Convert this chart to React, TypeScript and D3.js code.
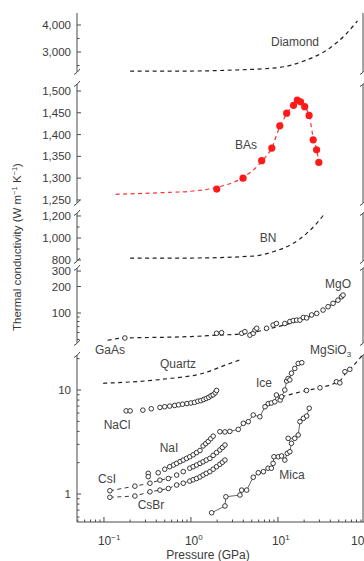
import { useRef, useEffect } from 'react';
import * as d3 from 'd3';

// Pressure (GPa) / thermal conductivity (W m-1 K-1)
const diamondP = [0.2, 1, 3, 10, 20, 40, 60, 82];
const diamondK = [2290, 2295, 2330, 2420, 2670, 3160, 3650, 4150];

const basLineP = [0.136, 0.5, 1, 2, 4, 6.5, 8.5, 10.5, 12.6, 15, 16.7, 18.5, 20.5, 23, 25.5, 28, 29.5];
const basLineK = [1263, 1267, 1270, 1279, 1302, 1338, 1370, 1418, 1447, 1469, 1480, 1476, 1463, 1442, 1392, 1364, 1337];
const basP = [1.98, 3.97, 6.5, 8.5, 10.5, 12.6, 15.1, 16.7, 18.2, 20.3, 22.8, 25.4, 27.8, 29.5];
const basK = [1275, 1300, 1340, 1369, 1420, 1449, 1467, 1479, 1475, 1464, 1444, 1388, 1365, 1336];

const bnP = [0.2, 1, 5.2, 8.8, 15, 21.4, 27.9, 34.6];
const bnK = [818, 818, 836, 875, 952, 1042, 1133, 1224];

const mgoLineP = [0.11, 0.174, 0.5, 1, 2, 4, 6, 10, 15, 20, 30, 40, 56];
const mgoLineK = [49, 52, 53, 54, 56, 58, 62, 70, 78, 86, 102, 122, 158];
const gaasP = [0.174];
const gaasK = [52];
const mgoP = [1.97, 2.25, 3.83, 4.17, 4.76, 5.2, 5.45, 5.7, 7.4, 8.8, 9.6, 12, 13.7, 15, 16.4, 17.9, 19.6, 21.4, 24.4, 27.9, 33, 37.7, 43, 49, 53.7, 56];
const mgoK = [58.8, 59.7, 58.8, 61.3, 56, 58.8, 64, 67, 67, 73, 76, 76, 80, 82, 83, 83, 89, 88, 95, 99, 108, 118, 129, 140, 153, 160];

const quartzP = [0.098, 0.48, 1.38, 2.7, 3.8];
const quartzK = [11.6, 12.7, 14.5, 17.8, 19.7];

const naclP = [0.18, 0.2, 0.28, 0.35, 0.44, 0.5, 0.57, 0.65, 0.72, 0.8, 0.9, 1.0, 1.1, 1.2, 1.3, 1.4, 1.5, 1.6, 1.7, 1.8, 1.9, 1.97];
const naclK = [6.3, 6.3, 6.4, 6.6, 6.8, 6.9, 7.0, 7.1, 7.2, 7.3, 7.4, 7.5, 7.6, 7.8, 7.9, 8.1, 8.3, 8.5, 8.8, 9.0, 9.4, 9.9];

const iceP = [2.15, 2.46, 2.8, 3.5, 4.0, 4.56, 5.2, 6.2, 7.1, 7.74, 8.4, 9.2, 9.6, 10.6, 11.0, 12.0, 12.6, 13.1, 13.7, 14.3, 15.6, 17.1, 18.8];
const iceK = [3.97, 3.95, 4.0, 4.18, 4.78, 4.96, 5.75, 5.53, 6.9, 7.4, 7.5, 7.7, 8.95, 8.0, 8.6, 10.0, 12.2, 12.9, 12.5, 14.5, 16.1, 18.0, 18.3];

const mgsio3LineP = [11, 15, 21.3, 30, 47, 53, 60, 67, 80, 95];
const mgsio3LineK = [8.6, 9.2, 9.9, 10.5, 11.8, 12.5, 14.5, 15.8, 18.5, 22];
const mgsio3P = [21.3, 30.4, 47, 51.5, 58.9, 67];
const mgsio3K = [9.9, 10.5, 12.0, 11.7, 15.0, 15.8];

const micaP = [1.73, 2.46, 2.52, 3.66, 3.83, 4.37, 5.2, 5.94, 6.8, 7.7, 8.4, 8.8, 9.0, 10.1, 11.0, 12.0, 12.8, 13.7, 14.3, 13.1, 15.6, 17.1, 17.9, 19.6, 21.4, 22.9];
const micaK = [0.66, 0.767, 0.94, 0.978, 1.09, 1.09, 1.45, 1.6, 1.64, 1.77, 1.77, 1.97, 2.28, 2.28, 2.32, 2.12, 2.46, 2.55, 3.07, 3.43, 3.43, 3.69, 4.96, 5.34, 5.62, 6.67];

const naiP = [0.323, 0.323, 0.42, 0.5, 0.57, 0.63, 0.685, 0.75, 0.815, 0.89, 0.97, 1.06, 1.16, 1.27, 1.38, 1.48, 1.58, 1.69, 1.8];
const naiK = [1.58, 1.47, 1.6, 1.73, 1.83, 1.9, 1.97, 2.05, 2.12, 2.2, 2.28, 2.38, 2.5, 2.62, 2.9, 3.05, 3.2, 3.4, 3.6];

const csiP = [0.117, 0.227, 0.338, 0.44, 0.55, 0.685, 0.815, 0.97, 1.06, 1.16, 1.27, 1.38, 1.5, 1.65, 1.8, 1.97, 2.15, 2.3, 2.46];
const csiK = [1.075, 1.19, 1.27, 1.36, 1.41, 1.52, 1.64, 1.77, 1.83, 1.9, 1.97, 2.04, 2.12, 2.2, 2.35, 2.5, 2.65, 2.8, 2.96];
const csbrP = [0.117, 0.227, 0.338, 0.44, 0.55, 0.685, 0.815, 0.97, 1.06, 1.16, 1.27, 1.38, 1.5, 1.65, 1.8, 1.97, 2.15, 2.3, 2.46];
const csbrK = [0.93, 0.956, 1.05, 1.09, 1.13, 1.22, 1.27, 1.33, 1.37, 1.41, 1.46, 1.52, 1.58, 1.64, 1.73, 1.83, 1.93, 2.02, 2.12];

const pressureTicks = [0.1, 1, 10, 100];
const pressureExp = ['\u22121', '0', '1', '2'];

const zip = (p: number[], k: number[]) => p.map((v, i) => [v, k[i]] as [number, number]);

const FONT = '"Liberation Sans", Arial, Helvetica, sans-serif';

export default function App() {
  const svgRef = useRef<SVGSVGElement>(null);

  useEffect(() => {
    if (!svgRef.current) return;
    const svg = d3.select(svgRef.current);
    svg.selectAll('*').remove();

    const left = 77, right = 363, axisY = 522;
    const x = d3.scaleLog().domain([0.049, 95]).range([left, right]);

    // stacked panels of the broken y axis
    const panels = [
      { y: d3.scaleLinear().domain([2259, 4444]).range([72, 13]), major: [3000, 4000], minor: [2500, 3500], topBreak: false, bottomBreak: true },
      { y: d3.scaleLinear().domain([1243, 1516]).range([203, 84]), major: [1250, 1300, 1350, 1400, 1450, 1500], minor: [], topBreak: true, bottomBreak: true },
      { y: d3.scaleLinear().domain([791, 1227]).range([261, 213]), major: [800, 1000, 1200], minor: [900, 1100], topBreak: true, bottomBreak: true },
      { y: d3.scaleLog().domain([45.6, 325]).range([343, 268]), major: [100, 200, 300], minor: [50, 60, 70, 80, 90], topBreak: true, bottomBreak: true },
      { y: d3.scaleLog().domain([0.538, 21.7]).range([axisY, 355]), major: [1, 10], minor: [0.6, 0.7, 0.8, 0.9, 2, 3, 4, 5, 6, 7, 8, 9, 20], topBreak: true, bottomBreak: false },
    ];
    const fmt = d3.format(',');
    const axisColor = '#4a4a4a';
    const textColor = '#3a3a3a';

    panels.forEach((pn) => {
      const [y0, y1] = pn.y.range() as [number, number];
      [left, right].forEach((ax) => {
        svg.append('line').attr('x1', ax).attr('x2', ax).attr('y1', y1).attr('y2', y0)
          .attr('stroke', axisColor).attr('stroke-width', 1);
        const marks: number[] = [];
        if (pn.topBreak) marks.push(y1);
        if (pn.bottomBreak) marks.push(y0);
        marks.forEach((by) => {
          svg.append('path')
            .attr('d', `M${ax - 3},${by + 2.5} Q${ax},${by + 1} ${ax + 3},${by - 3}`)
            .attr('fill', 'none').attr('stroke', axisColor).attr('stroke-width', 1);
        });
      });
      pn.major.forEach((v) => {
        const ty = pn.y(v);
        svg.append('line').attr('x1', left).attr('x2', left + 4).attr('y1', ty).attr('y2', ty)
          .attr('stroke', axisColor);
        svg.append('text').attr('x', left - 6).attr('y', ty).attr('dy', '0.35em')
          .attr('text-anchor', 'end').attr('fill', textColor)
          .style('font-family', FONT).style('font-size', '11.5px')
          .text(fmt(v));
      });
      pn.minor.forEach((v) => {
        const ty = pn.y(v);
        svg.append('line').attr('x1', left).attr('x2', left + 2.5).attr('y1', ty).attr('y2', ty)
          .attr('stroke', axisColor);
      });
    });

    // x axis
    svg.append('line').attr('x1', left).attr('x2', 364).attr('y1', axisY).attr('y2', axisY)
      .attr('stroke', axisColor);
    const minorX: number[] = [];
    [0.01, 0.1, 1, 10].forEach((d) => { for (let m = 2; m <= 9; m++) minorX.push(d * m); });
    minorX.filter((v) => v >= 0.05 && v <= 95).forEach((v) => {
      svg.append('line').attr('x1', x(v)).attr('x2', x(v)).attr('y1', axisY).attr('y2', axisY - 2.5)
        .attr('stroke', axisColor);
    });
    pressureTicks.forEach((v, i) => {
      svg.append('line').attr('x1', x(v)).attr('x2', x(v)).attr('y1', axisY).attr('y2', axisY - 5)
        .attr('stroke', axisColor);
      // the last label runs off the right edge, as in the original figure
      const t = svg.append('text').attr('x', Math.min(x(v) - 6, 351)).attr('y', 545)
        .attr('text-anchor', 'start').attr('fill', textColor)
        .style('font-family', FONT).style('font-size', '12px');
      t.append('tspan').text('10');
      t.append('tspan').attr('dy', -5).style('font-size', '8px').text(pressureExp[i]);
    });
    svg.append('text').attr('x', 208).attr('y', 559).attr('text-anchor', 'middle')
      .attr('fill', textColor).style('font-family', FONT).style('font-size', '12px')
      .text('Pressure (GPa)');

    const yl = svg.append('text').attr('transform', 'translate(21,247) rotate(-90)')
      .attr('text-anchor', 'middle').attr('fill', textColor)
      .style('font-family', FONT).style('font-size', '11.5px');
    yl.append('tspan').text('Thermal conductivity (W m');
    yl.append('tspan').attr('dy', -4).style('font-size', '7.5px').text('\u22121');
    yl.append('tspan').attr('dy', 4).text(' K');
    yl.append('tspan').attr('dy', -4).style('font-size', '7.5px').text('\u22121');
    yl.append('tspan').attr('dy', 4).text(')');

    const drawLine = (pn: number, data: [number, number][], opts: { color?: string; dash?: string; width?: number; curve?: boolean }) => {
      const yS = panels[pn].y as (v: number) => number;
      const gen = d3.line<[number, number]>().x((d) => x(d[0])).y((d) => yS(d[1]));
      if (opts.curve) gen.curve(d3.curveMonotoneX);
      svg.append('path').datum(data).attr('d', gen)
        .attr('fill', 'none').attr('stroke', opts.color ?? '#222')
        .attr('stroke-width', opts.width ?? 1.2)
        .attr('stroke-dasharray', opts.dash ?? null);
    };
    const drawDots = (pn: number, data: [number, number][], filled = false) => {
      const yS = panels[pn].y as (v: number) => number;
      svg.append('g').selectAll('circle').data(data).join('circle')
        .attr('cx', (d) => x(d[0])).attr('cy', (d) => yS(d[1]))
        .attr('r', filled ? 3.6 : 2.3)
        .attr('fill', filled ? '#ff1a1a' : '#fff')
        .attr('stroke', filled ? 'none' : '#222')
        .attr('stroke-width', 0.9);
    };
    const label = (txt: string, lx: number, ly: number, anchor = 'middle', sub?: string) => {
      const t = svg.append('text').attr('x', lx).attr('y', ly).attr('text-anchor', anchor)
        .attr('fill', '#444').style('font-family', FONT).style('font-size', '12px');
      t.append('tspan').text(txt);
      if (sub) t.append('tspan').attr('dy', 3).style('font-size', '8px').text(sub);
    };

    const dash = '4,3.5';
    // Diamond
    drawLine(0, zip(diamondP, diamondK), { dash, curve: true });
    label('Diamond', 295, 46);
    // BAs
    drawLine(1, zip(basLineP, basLineK), { dash, color: '#ff3030', curve: true });
    drawDots(1, zip(basP, basK), true);
    label('BAs', 246, 149);
    // BN
    drawLine(2, zip(bnP, bnK), { dash, curve: true });
    label('BN', 268, 242);
    // GaAs / MgO
    drawLine(3, zip(mgoLineP, mgoLineK), { dash, curve: true });
    drawDots(3, zip(gaasP, gaasK));
    drawDots(3, zip(mgoP, mgoK));
    label('MgO', 338, 288);
    label('GaAs', 110, 354);
    // lower panel
    drawLine(4, zip(quartzP, quartzK), { dash, curve: true });
    label('Quartz', 178, 368);
    drawLine(4, zip(mgsio3LineP, mgsio3LineK), { dash, curve: true });
    drawDots(4, zip(mgsio3P, mgsio3K));
    label('MgSiO', 310, 354, 'start', '3');
    drawDots(4, zip(naclP, naclK));
    label('NaCl', 117, 429);
    drawLine(4, zip(iceP, iceK), { width: 0.7 });
    drawDots(4, zip(iceP, iceK));
    label('Ice', 264, 387);
    drawLine(4, zip(micaP, micaK), { width: 0.7 });
    drawDots(4, zip(micaP, micaK));
    label('Mica', 292, 479);
    drawDots(4, zip(naiP, naiK));
    label('NaI', 169, 452);
    drawLine(4, zip(csiP, csiK), { dash, width: 0.9 });
    drawDots(4, zip(csiP, csiK));
    label('CsI', 107, 483);
    drawLine(4, zip(csbrP, csbrK), { dash, width: 0.9 });
    drawDots(4, zip(csbrP, csbrK));
    label('CsBr', 151, 509);
  }, []);

  return (
    <svg ref={svgRef} width={364} height={561}
      style={{ position: 'absolute', left: 0, top: 0, background: '#fff' }} />
  );
}
